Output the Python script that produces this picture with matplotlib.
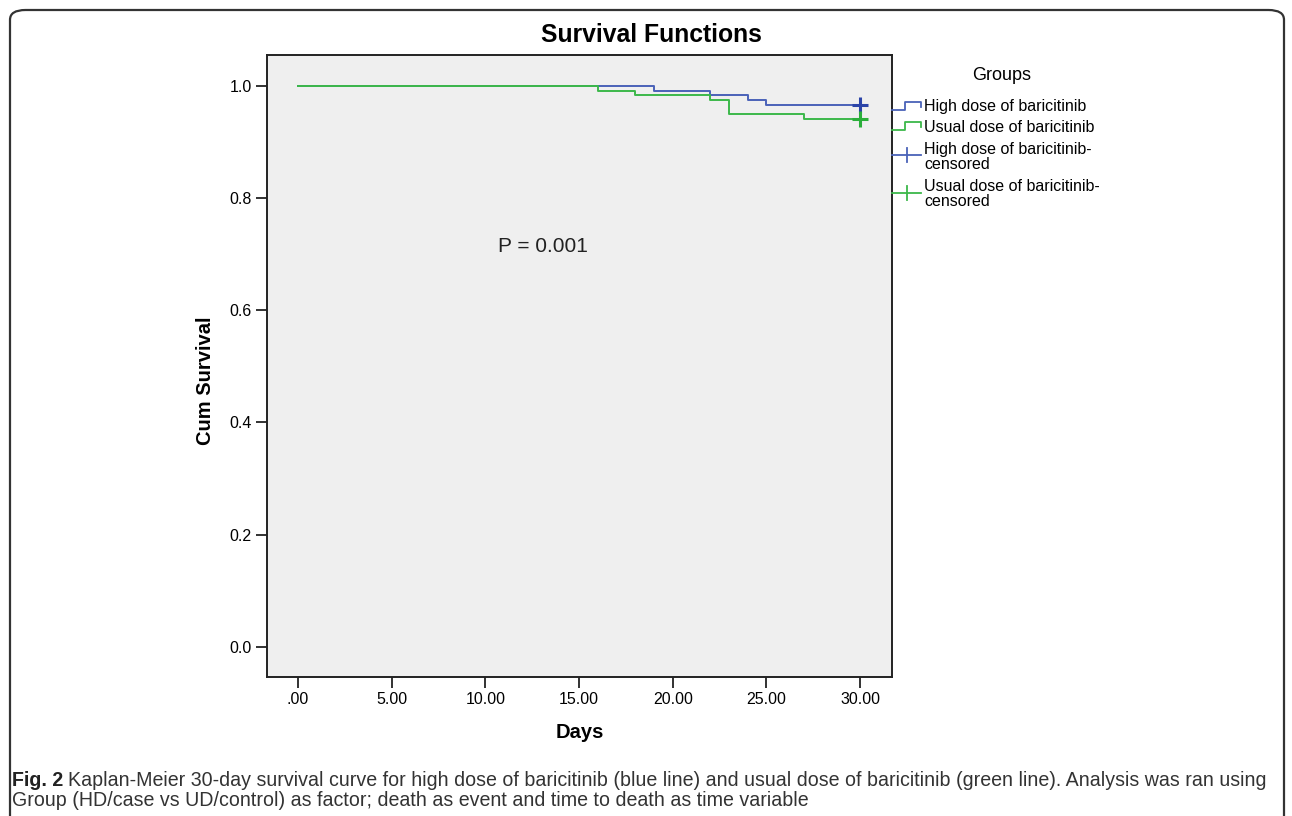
import numpy as np
import matplotlib
matplotlib.use('Agg')
import matplotlib.pyplot as plt
from matplotlib.lines import Line2D
from matplotlib.patches import FancyBboxPatch

# Kaplan-Meier steps
high_days = [0, 19, 22, 24, 25, 30]
high_surv = [1.0, 0.9917, 0.9833, 0.975, 0.9667, 0.9667]
usual_days = [0, 16, 18, 22, 23, 27, 30]
usual_surv = [1.0, 0.9917, 0.9833, 0.975, 0.95, 0.9417, 0.9417]
censor_day = 30

x_ticks = [0, 5, 10, 15, 20, 25, 30]
x_labels = ['.00', '5.00', '10.00', '15.00', '20.00', '25.00', '30.00']
y_ticks = [0.0, 0.2, 0.4, 0.6, 0.8, 1.0]
y_labels = ['0.0', '0.2', '0.4', '0.6', '0.8', '1.0']

legend_labels = ['High dose of baricitinib', 'Usual dose of baricitinib',
                 'High dose of baricitinib-\ncensored', 'Usual dose of baricitinib-\ncensored']

blue = '#4a62b8'
green = '#3cb84a'
blue_dark = '#2b44a8'
green_dark = '#2aae3a'

plt.rcParams['font.family'] = ['Liberation Sans', 'DejaVu Sans']

W, H = 1292, 816
fig = plt.figure(figsize=(W / 100, H / 100), dpi=100)


def fx(px):
    return px / W


def fy(py):
    return 1 - py / H


# outer rounded frame
frame = FancyBboxPatch((fx(10), fy(830)), fx(1284) - fx(10), fy(10) - fy(830),
                       boxstyle='round,pad=0,rounding_size=0.012',
                       transform=fig.transFigure, fill=False,
                       edgecolor='#333333', linewidth=1.6)
fig.patches.append(frame)

ax = fig.add_axes([fx(267), fy(677), fx(892) - fx(267), fy(55) - fy(677)])
ax.set_facecolor('#efefef')

ax.step(high_days, high_surv, where='post', color=blue, linewidth=1.4)
ax.step(usual_days, usual_surv, where='post', color=green, linewidth=1.4)
ax.plot([censor_day], [high_surv[-1]], marker='+', color=blue_dark, markersize=11, mew=2.2)
ax.plot([censor_day], [usual_surv[-1]], marker='+', color=green_dark, markersize=11, mew=2.2)

ax.set_xlim(-1.65, 31.7)
ax.set_ylim(-0.054, 1.055)
ax.set_xticks(x_ticks)
ax.set_xticklabels(x_labels)
ax.set_yticks(y_ticks)
ax.set_yticklabels(y_labels)
ax.tick_params(direction='out', length=8, width=1.3, labelsize=11.5, pad=3, color='#222222')
for s in ax.spines.values():
    s.set_linewidth(1.4)
    s.set_color('#222222')

ax.set_xlabel('Days', fontsize=14.5, fontweight='bold', labelpad=11)
ax.set_ylabel('Cum Survival', fontsize=14.5, fontweight='bold')
ax.yaxis.set_label_coords(-0.083, 0.476)
fig.text(fx(651), fy(35), 'Survival Functions', fontsize=17.8, fontweight='bold',
         ha='center', va='center')

ax.text(13.1, 0.713, 'P = 0.001', fontsize=15, ha='center', va='center', color='#222222')

# legend, drawn by hand in the SPSS style
fig.text(fx(1002), fy(75), 'Groups', fontsize=13, ha='center', va='center')
for yy, col in [(110, blue), (130, green)]:
    xs = [fx(892), fx(905), fx(905), fx(921), fx(921)]
    ys = [fy(yy), fy(yy), fy(yy - 8), fy(yy - 8), fy(yy - 3)]
    fig.add_artist(Line2D(xs, ys, color=col, linewidth=1.3, transform=fig.transFigure))
for yy, col in [(155, blue), (193, green)]:
    fig.add_artist(Line2D([fx(892), fx(921)], [fy(yy), fy(yy)], color=col, linewidth=1.3,
                          transform=fig.transFigure))
    fig.add_artist(Line2D([fx(907), fx(907)], [fy(yy - 7), fy(yy + 7)], color=col, linewidth=1.3,
                          transform=fig.transFigure))
for yy, lab in zip([107, 128, 157, 194], legend_labels):
    fig.text(fx(924), fy(yy), lab, fontsize=11.5, ha='left', va='center', linespacing=0.95)

# caption
cap_size = 14.15
t1 = fig.text(fx(12), fy(780), 'Fig. 2', fontsize=cap_size, fontweight='bold',
              ha='left', va='center', color='#222222')
fig.canvas.draw()
bb = t1.get_window_extent()
fig.text((bb.x1 + 5) / W, fy(780),
         'Kaplan-Meier 30-day survival curve for high dose of baricitinib (blue line) and usual dose of '
         'baricitinib (green line). Analysis was ran using',
         fontsize=cap_size, ha='left', va='center', color='#333333')
fig.text(fx(12), fy(801),
         'Group (HD/case vs UD/control) as factor; death as event and time to death as time variable',
         fontsize=cap_size, ha='left', va='center', color='#333333')

fig.savefig('out.png', dpi=100)
